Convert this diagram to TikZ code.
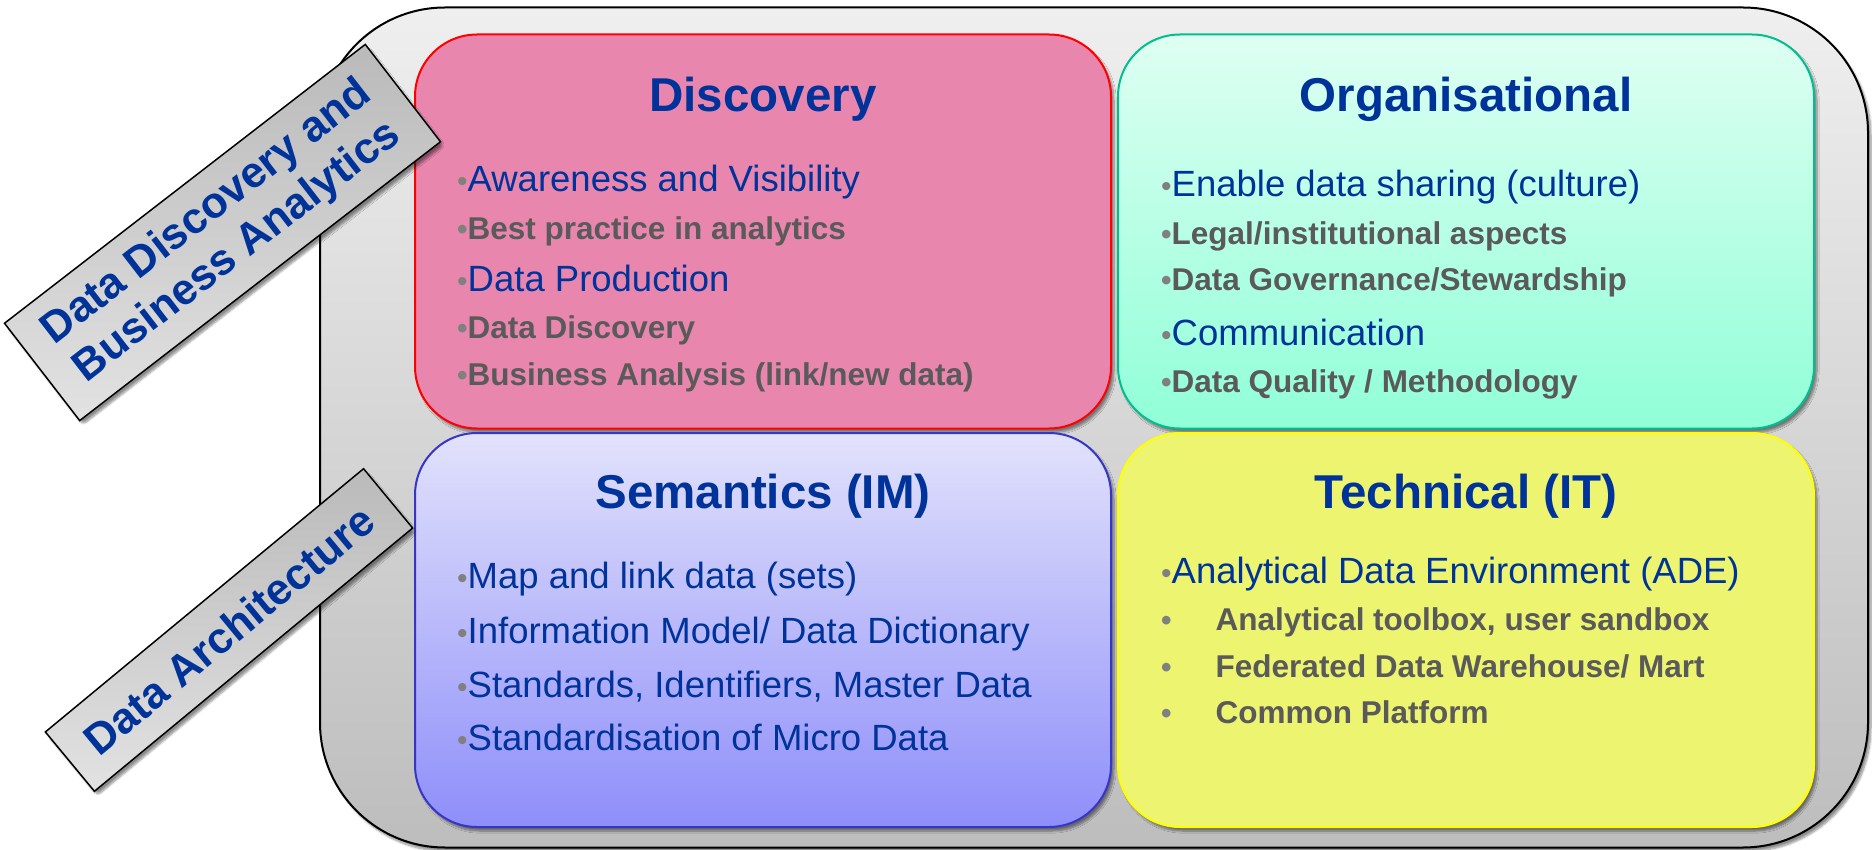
\documentclass[tikz,border=0pt]{standalone}
\usepackage{fontspec}
\setmainfont{Liberation Sans}
\usetikzlibrary{shadows.blur}

\definecolor{tblue}{HTML}{003399}
\definecolor{tgray}{HTML}{5A5A5A}
\definecolor{bgray}{HTML}{808080}
\definecolor{discfill}{HTML}{E886AE}
\definecolor{discline}{HTML}{FF0000}
\definecolor{orgtop}{HTML}{DEFFF3}
\definecolor{orgbot}{HTML}{90FFD8}
\definecolor{orgline}{HTML}{00BF8C}
\definecolor{semtop}{HTML}{E2E2FC}
\definecolor{sembot}{HTML}{8E8EFA}
\definecolor{semline}{HTML}{3535C8}
\definecolor{techfill}{HTML}{ECF470}
\definecolor{techline}{HTML}{FFFF00}
\definecolor{frametop}{HTML}{EFEFEF}
\definecolor{framebot}{HTML}{BDBDBD}
\definecolor{tagtop}{HTML}{BABABA}
\definecolor{tagbot}{HTML}{E2E2E2}

% small grey bullet in front of each list entry
\newcommand\bul{{\color{bgray}\fontsize{30}{30}\selectfont •}}

\begin{document}
\begin{tikzpicture}[x=1pt,y=-1pt,
  softshadow/.style={blur shadow={shadow xshift=3pt, shadow yshift=-4pt,
      shadow blur steps=8, shadow blur extra rounding=4pt, shadow opacity=45}},
  frame/.style={rectangle, rounded corners=125pt, draw=black, line width=2pt,
      top color=frametop, bottom color=framebot, inner sep=0pt,
      minimum width=1548pt, minimum height=840pt, softshadow},
  quad/.style={rectangle, rounded corners=62pt, line width=2pt, inner sep=0pt,
      minimum width=696pt, minimum height=394pt, softshadow},
  title/.style={anchor=base, inner sep=0pt, text=tblue,
      font=\fontsize{47.5}{52}\selectfont\bfseries},
  blueline/.style={anchor=base west, inner sep=0pt, text=tblue,
      font=\fontsize{36.5}{40}\selectfont},
  grayline/.style={anchor=base west, inner sep=0pt, text=tgray,
      font=\fontsize{31.5}{36}\selectfont\bfseries},
  tag/.style={rectangle, draw=black, line width=1.5pt, top color=tagtop,
      bottom color=tagbot, inner sep=0pt, align=center, text=tblue,
      font=\fontsize{43.5}{50}\selectfont\bfseries, softshadow}
]
\useasboundingbox (0,0) rectangle (1872,850);

% outer panel
\node[frame] (panel) at (1094,427.5) {};

% the four quadrants
\node[quad, draw=discline, fill=discfill] (disc) at (763,231.5) {};
\node[quad, draw=orgline, top color=orgtop, bottom color=orgbot] (org) at (1466,231.5) {};
\node[quad, draw=semline, top color=semtop, bottom color=sembot] (sem) at (763,630) {};
\node[quad, draw=techline, fill=techfill] (tech) at (1466,630) {};

% Discovery
\node[title] (discT) at (763,112) {Discovery};
\node[blueline] (d1) at (457,192) {\bul Awareness and Visibility};
\node[grayline] (d2) at (457,240) {\bul Best practice in analytics};
\node[blueline] (d3) at (457,292) {\bul Data Production};
\node[grayline] (d4) at (457,339) {\bul Data Discovery};
\node[grayline] (d5) at (457,385) {\bul Business Analysis (link/new data)};

% Organisational
\node[title] (orgT) at (1466,112) {Organisational};
\node[blueline] (o1) at (1161,197) {\bul Enable data sharing (culture)};
\node[grayline] (o2) at (1161,245) {\bul Legal/institutional aspects};
\node[grayline] (o3) at (1161,291) {\bul Data Governance/Stewardship};
\node[blueline] (o4) at (1161,345) {\bul Communication};
\node[grayline] (o5) at (1161,392) {\bul Data Quality / Methodology};

% Semantics
\node[title] (semT) at (763,508) {Semantics (IM)};
\node[blueline] (s1) at (457,588) {\bul Map and link data (sets)};
\node[blueline] (s2) at (457,643) {\bul Information Model/ Data Dictionary};
\node[blueline] (s3) at (457,697) {\bul Standards, Identifiers, Master Data};
\node[blueline] (s4) at (457,750) {\bul Standardisation of Micro Data};

% Technical
\node[title] (techT) at (1466,508) {Technical (IT)};
\node[blueline] (t1) at (1161,583) {\bul Analytical Data Environment (ADE)};
\node[grayline] (t2) at (1161,630) {\bul\hspace{44pt}Analytical toolbox, user sandbox};
\node[grayline] (t3) at (1161,677) {\bul\hspace{44pt}Federated Data Warehouse/ Mart};
\node[grayline] (t4) at (1161,723) {\bul\hspace{44pt}Common Platform};

% slanted side tags
\node[tag, rotate=37.7, minimum width=456pt, minimum height=123pt] (tagA)
  at (222.5,232.5) {Data Discovery and\\Business Analytics};
\node[tag, rotate=39.6, minimum width=413pt, minimum height=77pt] (tagB)
  at (229,630) {Data Architecture};
\end{tikzpicture}
\end{document}
